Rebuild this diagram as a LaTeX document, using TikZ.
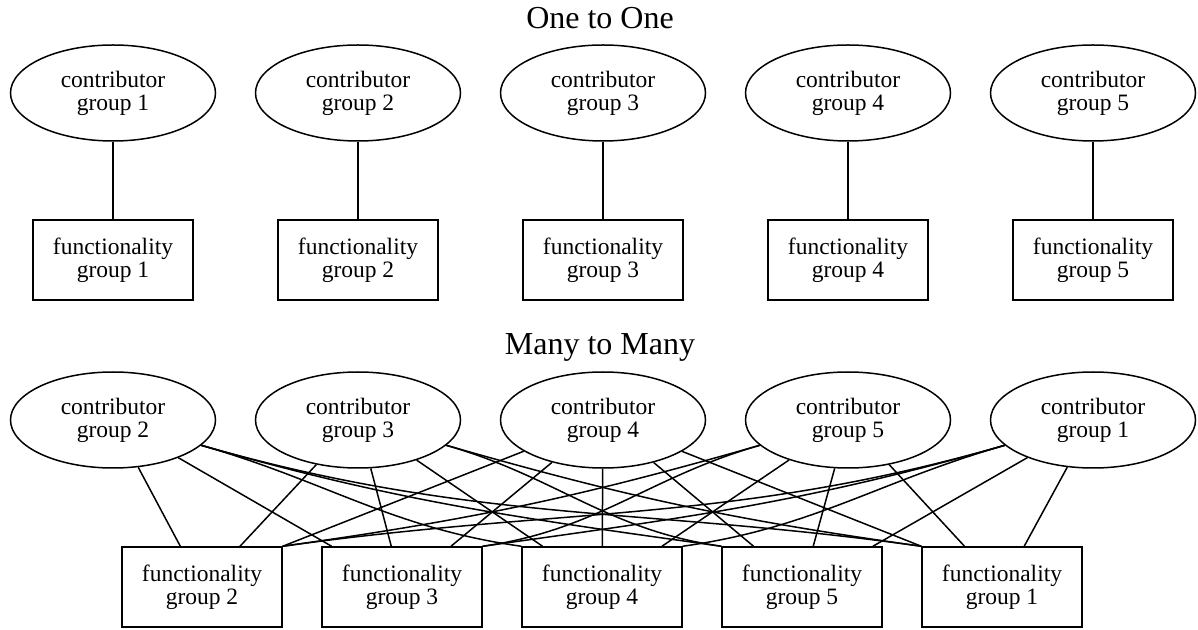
\documentclass[tikz,border=0pt]{standalone}
\usepackage{fontspec}
\setmainfont{Liberation Serif}
\usetikzlibrary{shapes.geometric}

\begin{document}
\begin{tikzpicture}[x=1pt,y=1pt,
  contrib/.style={draw,ellipse,line width=1.5pt,minimum width=205pt,minimum height=96pt,
    inner sep=0pt,align=center,font=\fontsize{23.5}{23}\selectfont},
  func/.style={draw,rectangle,line width=1.5pt,minimum width=160pt,minimum height=80pt,
    inner sep=0pt,align=center,font=\fontsize{23.5}{23}\selectfont},
  heading/.style={font=\fontsize{32}{32}\selectfont},
  link/.style={line width=1.5pt}]
  \useasboundingbox (0,0) rectangle (1198,629);

  % One to One
  \node[heading] (t1) at (600,611) {One to One};
  \foreach \i in {1,...,5} {
    \node[contrib] (oc\i) at ({113+245*(\i-1)},536) {contributor\\group \i};
    \node[func] (of\i) at ({113+245*(\i-1)},369) {functionality\\group \i};
    \draw[link] (oc\i) -- (of\i);
  }

  % Many to Many
  \node[heading] (t2) at (600,282) {Many to Many};
  \foreach \g/\x in {2/113,3/358,4/603,5/848,1/1093}
    \node[contrib] (mc\g) at (\x,209) {contributor\\group \g};
  \foreach \g/\x in {2/202,3/402,4/602,5/802,1/1002}
    \node[func] (mf\g) at (\x,42) {functionality\\group \g};

  % every contributor group to every functionality group
  \foreach \a/\b in {2/2,2/3,3/2,3/3,3/4,4/3,4/4,4/5,5/4,5/5,5/1,1/5,1/1}
    \draw[link] (mc\a) -- (mf\b);
  \draw[link] (mc4) -- (mf2.north east);
  \draw[link] (mc4) -- (mf1.north west);
  \foreach \a/\b in {2/4,2/5,2/1,3/5,3/1}
    \draw[link] (mc\a) to[out=-16,in=172] (mf\b.north west);
  \foreach \a/\b in {5/2,5/3,1/2,1/3,1/4}
    \draw[link] (mc\a) to[out=196,in=8] (mf\b.north east);
\end{tikzpicture}
\end{document}
